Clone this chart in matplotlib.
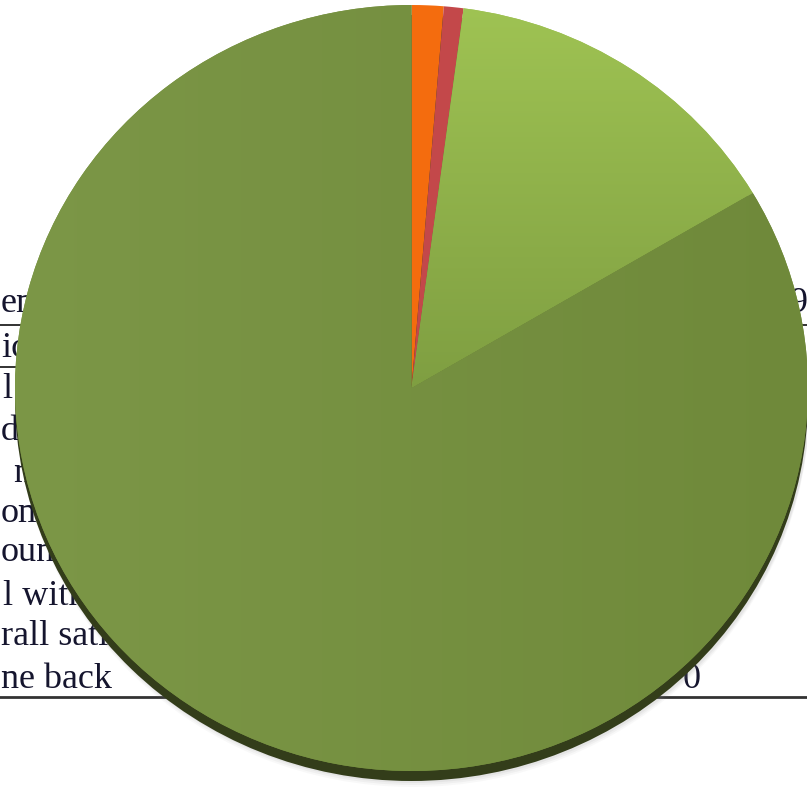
import numpy as np
import matplotlib.pyplot as plt
from matplotlib.patches import Ellipse
from matplotlib.colors import to_rgb

# slice shares, clockwise from 12 o'clock
shares = [1.3, 0.8, 14.4, 83.5]
slice_colors = ['#f46c0e', '#c3484a', '#9bbe50', '#76913f']

# pieces of the table that sits behind the pie
left_cells = ['en', 'ic', 'l', 'd', 'n', 'om', 'oun', 'l with', 'rall sati', 'ne back']
right_cells = ['9', '0']

W, H = 807, 788
fig = plt.figure(figsize=(W / 100, H / 100), dpi=100)
fig.patch.set_facecolor('white')

# background layer in pixel coordinates
bg = fig.add_axes([0, 0, 1, 1])
bg.set_xlim(0, W)
bg.set_ylim(H, 0)
bg.axis('off')

cell_x = [1, 1, 2, 1, 13, 1, 1, 3, 1, 1]
cell_y = [312, 357, 398, 440, 482, 522, 561, 605, 645, 688]
txt_style = dict(fontsize=26, family='Liberation Serif', color='#15152e',
                 ha='left', va='baseline')
for txt, x, y in zip(left_cells, cell_x, cell_y):
    bg.text(x, y, txt, **txt_style)
bg.text(790, 312, right_cells[0], **txt_style)
bg.text(683, 688, right_cells[1], **txt_style)

for y in [325, 367]:
    bg.plot([0, W], [y, y], color='#222222', lw=1.3)
bg.plot([0, W], [697, 697], color='#333333', lw=2)

# pie axes, stretched to an ellipse
left, right, top, bottom = 15, 808, 5, 771
pax = fig.add_axes([left / W, 1 - bottom / H, (right - left) / W, (bottom - top) / H])
px = (bottom - top) / 2  # pixels per data unit vertically

# soft drop shadow and the dark side of the disc
for off, a in [(16, 0.05), (14, 0.07), (12, 0.09)]:
    pax.add_patch(Ellipse((0.004, -off / px), 2.0, 2.0, color='#808080',
                          alpha=a, lw=0, clip_on=False, zorder=0))
pax.add_patch(Ellipse((0, -10 / px), 2, 2, color='#333d1a', lw=0,
                      clip_on=False, zorder=0.5))

wedges, _ = pax.pie(shares, colors=slice_colors, startangle=90,
                    counterclock=False, radius=1,
                    wedgeprops=dict(linewidth=0))


def shade(wedge, c0, c1, horizontal):
    t = np.linspace(0, 1, 256)
    a, b = np.array(to_rgb(c0)), np.array(to_rgb(c1))
    ramp = a + (b - a) * t[:, None]
    img = ramp[None, :, :] if horizontal else ramp[:, None, :]
    im = pax.imshow(img, extent=(-1, 1, -1, 1), origin='upper',
                    aspect='auto', zorder=wedge.get_zorder() + 0.1)
    im.set_clip_path(wedge)


shade(wedges[2], '#9fc353', '#5f7a30', horizontal=False)
shade(wedges[3], '#7c9747', '#6f893a', horizontal=True)

pax.set_aspect('auto')
pax.set_xlim(-1, 1)
pax.set_ylim(-1, 1)
pax.axis('off')

fig.savefig('out.png', dpi=100, facecolor='white')
